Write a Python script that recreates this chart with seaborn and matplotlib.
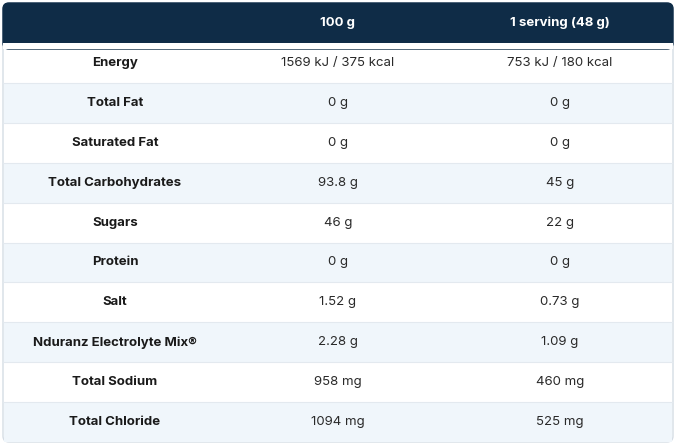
import matplotlib
matplotlib.use("Agg")
import matplotlib.pyplot as plt
import seaborn as sns
import numpy as np
from matplotlib.patches import FancyBboxPatch, Rectangle

sns.set_theme(style="white")
plt.rcParams['font.family'] = ['Inter', 'DejaVu Sans']

headers = ["", "100 g", "1 serving (48 g)"]
nutrients = ["Energy", "Total Fat", "Saturated Fat", "Total Carbohydrates", "Sugars",
             "Protein", "Salt", "Nduranz Electrolyte Mix®", "Total Sodium", "Total Chloride"]
per100 = ["1569 kJ / 375 kcal", "0 g", "0 g", "93.8 g", "46 g", "0 g", "1.52 g",
          "2.28 g", "958 mg", "1094 mg"]
perServing = ["753 kJ / 180 kcal", "0 g", "0 g", "45 g", "22 g", "0 g", "0.73 g",
              "1.09 g", "460 mg", "525 mg"]

W, H = 676, 444
fig = plt.figure(figsize=(W/100, H/100), dpi=100)
ax = fig.add_axes([0, 0, 1, 1])
ax.set_xlim(0, W); ax.set_ylim(H, 0); ax.axis("off")

left, right, top, bottom = 3, 673, 3, 442
head_h = 40
row_h = (bottom - top - head_h) / len(nutrients)
col_x = [115, 338, 560]
navy = "#0f2c47"

# outer border + header
ax.add_patch(FancyBboxPatch((left, top), right-left, bottom-top,
             boxstyle="round,pad=0,rounding_size=6", fc="white", ec="#d5dde5", lw=1, zorder=0))
ax.add_patch(FancyBboxPatch((left, top), right-left, head_h + 6,
             boxstyle="round,pad=0,rounding_size=6", fc=navy, ec=navy, lw=1, zorder=1))
ax.add_patch(Rectangle((left, top + head_h - 2), right-left, 8, fc="white", ec="none", zorder=1.5))
ax.add_patch(Rectangle((left, top + 10), right-left, head_h - 10, fc=navy, ec="none", zorder=1.6))

for j, h in enumerate(headers):
    ax.text(col_x[j], top + head_h/2, h, color="white", fontsize=9.5, fontweight="bold",
            ha="center", va="center", zorder=3)

for i in range(len(nutrients)):
    y0 = top + head_h + i*row_h
    if i % 2 == 1:
        ax.add_patch(Rectangle((left+1, y0), right-left-2, row_h, fc="#f0f6fb", ec="none", zorder=1))
    if i > 0:
        ax.plot([left, right], [y0, y0], color="#e3e9ef", lw=0.8, zorder=2)
    yc = y0 + row_h/2
    ax.text(col_x[0], yc, nutrients[i], fontsize=9.5, fontweight="bold", color="#1a1a1a",
            ha="center", va="center", zorder=3)
    ax.text(col_x[1], yc, per100[i], fontsize=9.5, color="#2a2a2a", ha="center", va="center", zorder=3)
    ax.text(col_x[2], yc, perServing[i], fontsize=9.5, color="#2a2a2a", ha="center", va="center", zorder=3)

fig.savefig("out.png", dpi=100)
